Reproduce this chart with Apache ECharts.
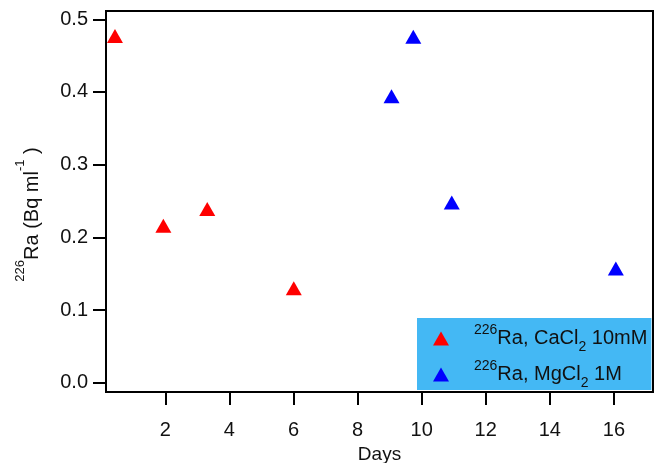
<!DOCTYPE html>
<html><head><meta charset="utf-8">
<script src="https://cdn.jsdelivr.net/npm/echarts@6/dist/echarts.min.js"></script>
<style>html,body{margin:0;padding:0;background:#fff}#c{width:655px;height:463px}</style>
</head><body><div id="c"></div>
<script>
// Data
const caDays = [0.43, 1.94, 3.31, 6.01];
const caRa   = [0.477, 0.216, 0.239, 0.130];
const mgDays = [9.06, 9.74, 10.94, 16.06];
const mgRa   = [0.394, 0.476, 0.248, 0.157];
const xTicks = [2, 4, 6, 8, 10, 12, 14, 16];
const yTicks = [0, 0.1, 0.2, 0.3, 0.4, 0.5];

const FONT = '"Liberation Sans", Arial, sans-serif';
const TXT = '#111';
const legendRich = {
  '226Ra, CaCl2 10mM': '{sup|226}{n|Ra, CaCl}{sub|2}{n| 10mM}',
  '226Ra, MgCl2 1M': '{sup|226}{n|Ra, MgCl}{sub|2}{n| 1M}'
};
const zip = (a, b) => a.map((v, i) => [v, b[i]]);

const chart = echarts.init(document.getElementById('c'), null, {renderer: 'canvas'});
chart.setOption({
  animation: false,
  backgroundColor: '#fff',
  grid: {left: 106, top: 11, right: 2, bottom: 71, show: true, borderColor: '#000', borderWidth: 2,
    backgroundColor: 'transparent', containLabel: false, outerBoundsMode: 'none'},
  xAxis: {
    type: 'value', min: 0.15, max: 17.22,
    axisLine: {show: true, onZero: false, lineStyle: {color: '#000', width: 2}},
    axisTick: {show: true, customValues: xTicks, length: 13, lineStyle: {color: '#000', width: 2}},
    axisLabel: {customValues: xTicks, margin: 28, fontSize: 20, color: TXT, fontFamily: FONT},
    splitLine: {show: false},
    name: 'Days', nameLocation: 'middle', nameGap: 48,
    nameTextStyle: {fontSize: 19, color: TXT, fontFamily: FONT}
  },
  yAxis: {
    type: 'value', min: -0.0128, max: 0.5114,
    axisLine: {show: true, onZero: false, lineStyle: {color: '#000', width: 2}},
    axisTick: {show: true, customValues: yTicks, length: 13, lineStyle: {color: '#000', width: 2}},
    axisLabel: {customValues: yTicks, margin: 18, fontSize: 20, color: TXT, fontFamily: FONT,
      formatter: v => v.toFixed(1)},
    splitLine: {show: false},
    name: '{sup|226}{n|Ra (Bq ml}{sup|-1}{n| )}',
    nameLocation: 'middle', nameRotate: 90, nameGap: 56,
    nameTextStyle: {
      color: TXT, fontFamily: FONT, padding: [0, 26, 0, 0],
      rich: {
        n: {fontSize: 20, lineHeight: 36, color: TXT, fontFamily: FONT},
        sup: {fontSize: 13, lineHeight: 10, verticalAlign: 'top', color: TXT, fontFamily: FONT}
      }
    }
  },
  legend: {
    orient: 'vertical', left: 417, top: 318,
    backgroundColor: '#44b8f4', borderWidth: 0,
    padding: [5, 4, 0, 16], itemGap: 5,
    icon: 'triangle', itemWidth: 16, itemHeight: 14,
    data: ['226Ra, CaCl2 10mM', '226Ra, MgCl2 1M'],
    formatter: name => legendRich[name],
    textStyle: {
      color: TXT, fontFamily: FONT,
      rich: {
        n: {fontSize: 20, lineHeight: 31, color: TXT, fontFamily: FONT},
        sup: {fontSize: 14, lineHeight: 10, verticalAlign: 'top', padding: [0, 0, 0, 20], color: TXT, fontFamily: FONT},
        sub: {fontSize: 14, lineHeight: 18, verticalAlign: 'bottom', color: TXT, fontFamily: FONT}
      }
    }
  },
  series: [
    {name: '226Ra, CaCl2 10mM', type: 'scatter', symbol: 'triangle', symbolSize: [16, 14],
     itemStyle: {color: '#ff0000', opacity: 1}, data: zip(caDays, caRa)},
    {name: '226Ra, MgCl2 1M', type: 'scatter', symbol: 'triangle', symbolSize: [16, 14],
     itemStyle: {color: '#0000ff', opacity: 1}, data: zip(mgDays, mgRa)}
  ]
});
</script></body></html>
